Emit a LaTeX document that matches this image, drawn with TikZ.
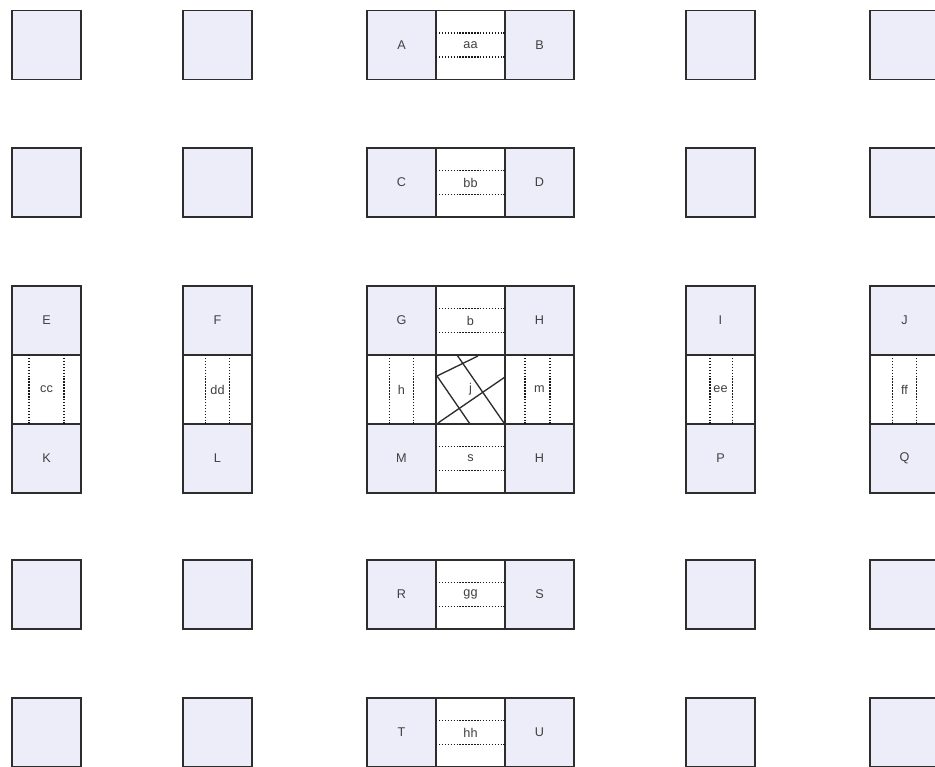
\documentclass[tikz,border=0pt]{standalone}
\usepackage{fontspec}
\setmainfont{Liberation Sans}
\definecolor{cellfill}{RGB}{237,237,250}
\definecolor{edge}{RGB}{45,45,45}
\begin{document}
\begin{tikzpicture}[x=0.75pt,y=-0.75pt,
	cell/.style={draw=edge,line width=1.4pt,fill=cellfill,minimum size=51.75pt,inner sep=0pt,outer sep=0pt,font=\fontsize{9.5}{11}\selectfont,text=black!75},
	link/.style={cell,fill=white},
	dots/.style={draw=black!90,line width=1.4pt,dash pattern=on 1.1pt off 1.1pt},
	cross/.style={draw=edge,line width=1pt}]
	\useasboundingbox (0,0) rectangle (935,767);
	\clip (0,0) rectangle (935,767);
	% plain squares
	\node[cell] (p11) at (46.5,45) {};
	\node[cell] (p12) at (217.5,45) {};
	\node[cell] (p14) at (720.5,45) {};
	\node[cell] (p15) at (904.5,45) {};
	\node[cell] (p21) at (46.5,182.5) {};
	\node[cell] (p22) at (217.5,182.5) {};
	\node[cell] (p24) at (720.5,182.5) {};
	\node[cell] (p25) at (904.5,182.5) {};
	\node[cell] (p41) at (46.5,594.5) {};
	\node[cell] (p42) at (217.5,594.5) {};
	\node[cell] (p44) at (720.5,594.5) {};
	\node[cell] (p45) at (904.5,594.5) {};
	\node[cell] (p51) at (46.5,732.5) {};
	\node[cell] (p52) at (217.5,732.5) {};
	\node[cell] (p54) at (720.5,732.5) {};
	\node[cell] (p55) at (904.5,732.5) {};
	% middle column
	\node[cell] (A) at (401.5,45) {A};
	\node[link] (aa) at (470.5,45) {aa};
	\node[cell] (B) at (539.5,45) {B};
	\node[cell] (C) at (401.5,182.5) {C};
	\node[link] (bb) at (470.5,182.5) {bb};
	\node[cell] (D) at (539.5,182.5) {D};
	\node[cell] (R) at (401.5,594.5) {R};
	\node[link] (gg) at (470.5,594.5) {gg};
	\node[cell] (S) at (539.5,594.5) {S};
	\node[cell] (T) at (401.5,732.5) {T};
	\node[link] (hh) at (470.5,732.5) {hh};
	\node[cell] (U) at (539.5,732.5) {U};
	% middle row
	\node[cell] (E) at (46.5,320.5) {E};
	\node[link] (cc) at (46.5,389.5) {cc};
	\node[cell] (K) at (46.5,458.5) {K};
	\node[cell] (F) at (217.5,320.5) {F};
	\node[link] (dd) at (217.5,389.5) {dd};
	\node[cell] (L) at (217.5,458.5) {L};
	\node[cell] (I) at (720.5,320.5) {I};
	\node[link] (ee) at (720.5,389.5) {ee};
	\node[cell] (P) at (720.5,458.5) {P};
	\node[cell] (J) at (904.5,320.5) {J};
	\node[link] (ff) at (904.5,389.5) {ff};
	\node[cell] (Q) at (904.5,458.5) {Q};
	% crossing
	\node[cell] (G) at (401.5,320.5) {G};
	\node[link] (b) at (470.5,320.5) {b};
	\node[cell] (H1) at (539.5,320.5) {H};
	\node[link] (h) at (401.5,389.5) {h};
	\node[link] (j) at (470.5,389.5) {j};
	\node[link] (m) at (539.5,389.5) {m};
	\node[cell] (M) at (401.5,458.5) {M};
	\node[link] (s) at (470.5,458.5) {s};
	\node[cell] (H2) at (539.5,458.5) {H};
	% dotted lanes
	\draw[dots] ([yshift=9pt]aa.west) -- ([yshift=9pt]aa.east);
	\draw[dots] ([yshift=-9pt]aa.west) -- ([yshift=-9pt]aa.east);
	\draw[dots] ([yshift=9pt]bb.west) -- ([yshift=9pt]bb.east);
	\draw[dots] ([yshift=-9pt]bb.west) -- ([yshift=-9pt]bb.east);
	\draw[dots] ([yshift=9pt]b.west) -- ([yshift=9pt]b.east);
	\draw[dots] ([yshift=-9pt]b.west) -- ([yshift=-9pt]b.east);
	\draw[dots] ([yshift=9pt]s.west) -- ([yshift=9pt]s.east);
	\draw[dots] ([yshift=-9pt]s.west) -- ([yshift=-9pt]s.east);
	\draw[dots] ([yshift=9pt]gg.west) -- ([yshift=9pt]gg.east);
	\draw[dots] ([yshift=-9pt]gg.west) -- ([yshift=-9pt]gg.east);
	\draw[dots] ([yshift=9pt]hh.west) -- ([yshift=9pt]hh.east);
	\draw[dots] ([yshift=-9pt]hh.west) -- ([yshift=-9pt]hh.east);
	\draw[dots] ([xshift=-13pt]cc.north) -- ([xshift=-13pt]cc.south);
	\draw[dots] ([xshift=13pt]cc.north) -- ([xshift=13pt]cc.south);
	\draw[dots] ([xshift=-9pt]dd.north) -- ([xshift=-9pt]dd.south);
	\draw[dots] ([xshift=9pt]dd.north) -- ([xshift=9pt]dd.south);
	\draw[dots] ([xshift=-9pt]h.north) -- ([xshift=-9pt]h.south);
	\draw[dots] ([xshift=9pt]h.north) -- ([xshift=9pt]h.south);
	\draw[dots] ([xshift=-11pt]m.north) -- ([xshift=-11pt]m.south);
	\draw[dots] ([xshift=8pt]m.north) -- ([xshift=8pt]m.south);
	\draw[dots] ([xshift=-8pt]ee.north) -- ([xshift=-8pt]ee.south);
	\draw[dots] ([xshift=9pt]ee.north) -- ([xshift=9pt]ee.south);
	\draw[dots] ([xshift=-9pt]ff.north) -- ([xshift=-9pt]ff.south);
	\draw[dots] ([xshift=9pt]ff.north) -- ([xshift=9pt]ff.south);
	% turning lines
	\draw[cross] ([shift={(1,21)}]j.north west) -- ([shift={(42,1)}]j.north west);
	\draw[cross] ([shift={(1,21)}]j.north west) -- ([shift={(34,69)}]j.north west);
	\draw[cross] ([shift={(21,0)}]j.north west) -- ([shift={(68,68)}]j.north west);
	\draw[cross] ([shift={(2,68)}]j.north west) -- ([shift={(69,22)}]j.north west);
\end{tikzpicture}
\end{document}
